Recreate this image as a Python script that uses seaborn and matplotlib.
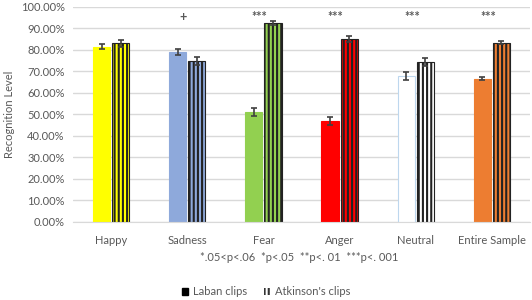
import numpy as np
import pandas as pd
import matplotlib
matplotlib.use('Agg')
import matplotlib.pyplot as plt
from matplotlib.patches import Patch
from matplotlib.ticker import PercentFormatter, MultipleLocator
import seaborn as sns

# 数据
emotions = ['Happy', 'Sadness', 'Fear', 'Anger', 'Neutral', 'Entire Sample']
clips = ['Laban clips', "Atkinson's clips"]
laban = [0.815, 0.79, 0.51, 0.47, 0.68, 0.667]
atkinson = [0.83, 0.75, 0.926, 0.85, 0.745, 0.833]
laban_err = [0.012, 0.012, 0.018, 0.018, 0.018, 0.008]
atkinson_err = [0.015, 0.018, 0.010, 0.015, 0.018, 0.007]
sig_marks = ['', '+', '***', '***', '***', '***']
face_colors = ['#FFFF00', '#8EA9DB', '#92D050', '#FF0000', '#FFFFFF', '#ED7D31']
note = '*.05<p<.06  *p<.05  **p<. 01  ***p<. 001'

df = pd.DataFrame({
    'Emotion': emotions * 2,
    'Level': laban + atkinson,
    'Clip': [clips[0]] * len(emotions) + [clips[1]] * len(emotions),
})

sns.set_style('white')
plt.rcParams['font.family'] = ['Lato', 'DejaVu Sans']
plt.rcParams['hatch.linewidth'] = 1.5
txt = '#595959'

fig = plt.figure(figsize=(5.32, 3.0), dpi=100)
ax = fig.add_axes([73 / 532, 0.26, (530 - 73) / 532, 0.977 - 0.26])

sns.barplot(data=df, x='Emotion', y='Level', hue='Clip', order=emotions,
            hue_order=clips, width=0.5, gap=0.1, errorbar=None, legend=False, ax=ax)

errs = [laban_err, atkinson_err]
bar_groups = list(ax.containers)
for k, cont in enumerate(bar_groups):
    for i, bar in enumerate(cont):
        bar.set_facecolor(face_colors[i])
        if k == 0:
            bar.set_edgecolor('#BDD7EE' if face_colors[i] == '#FFFFFF' else face_colors[i])
            bar.set_linewidth(0.8)
        else:
            bar.set_hatch('||||')
            bar.set_edgecolor('#222222')
            bar.set_linewidth(0.8)
        cx = bar.get_x() + bar.get_width() / 2
        ax.errorbar(cx, bar.get_height(), yerr=errs[k][i], color='#404040',
                    capsize=2.5, elinewidth=1.2, capthick=1.2, zorder=5)

for i, m in enumerate(sig_marks):
    if m:
        ax.text(i - 0.05, 0.955, m, ha='center', va='center', fontsize=9,
                color=txt, fontweight='bold')

ax.set_ylim(0, 1.0)
ax.set_xlim(-0.5, len(emotions) - 0.5)
ax.yaxis.set_major_locator(MultipleLocator(0.1))
ax.yaxis.set_major_formatter(PercentFormatter(1.0, decimals=2))
ax.grid(axis='y', color='#D9D9D9', linewidth=1)
ax.set_axisbelow(True)
for s in ['top', 'right', 'left']:
    ax.spines[s].set_visible(False)
ax.spines['bottom'].set_color('#D9D9D9')
ax.tick_params(axis='both', length=0, labelsize=8, labelcolor=txt, pad=6)
ax.tick_params(axis='x', pad=9)
ax.set_xlabel('')
ax.set_ylabel('Recognition Level', fontsize=8, color=txt, labelpad=4)

fig.text(0.562, 0.143, note, ha='center', va='center', fontsize=8, color=txt)

handles = [Patch(facecolor='black', edgecolor='black'),
           Patch(facecolor='white', edgecolor='#333333', linewidth=0, hatch='||||')]
fig.legend(handles, clips, loc='center', bbox_to_anchor=(0.5, 0.027), ncol=2,
           frameon=False, fontsize=8, labelcolor=txt, handlelength=0.6,
           handleheight=0.6, handletextpad=0.4, columnspacing=1.5)

fig.savefig('out.png', dpi=100)
